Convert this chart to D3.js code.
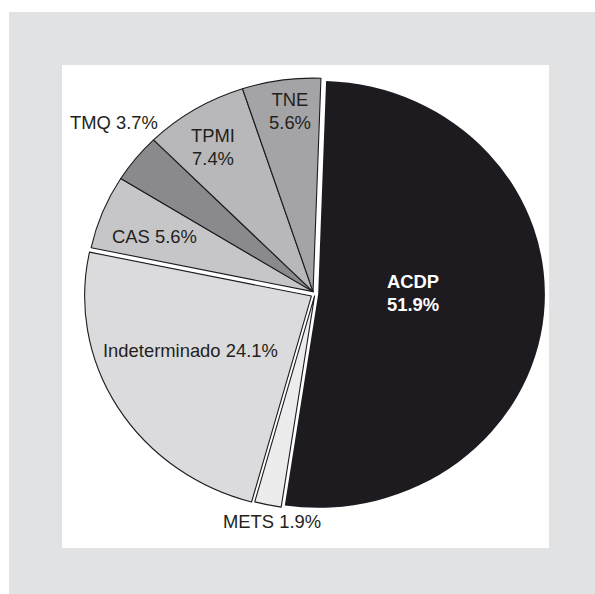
<!DOCTYPE html>
<html>
<head>
<meta charset="utf-8">
<script src="https://cdn.jsdelivr.net/npm/d3@7"></script>
<style>
  html, body { margin: 0; padding: 0; background: #ffffff; }
  svg { display: block; }
  text { font-family: "Liberation Sans", Arial, Helvetica, sans-serif; }
</style>
</head>
<body>
<svg id="chart" width="595" height="594"></svg>
<script>
// Diagnostic categories and their shares (%)
const categories = ["ACDP", "METS", "Indeterminado", "CAS", "TMQ", "TPMI", "TNE"];
const shares = [51.9, 1.9, 24.1, 5.6, 3.7, 7.4, 5.6];
const shareLabels = ["51.9%", "1.9%", "24.1%", "5.6%", "3.7%", "7.4%", "5.6%"];

// Slice fills
const fills = ["#1d1a20", "#ececed", "#dbdbdd", "#c6c6c8", "#8a8a8c", "#b8b8ba", "#a4a4a6"];
// How far each slice is pulled out of the centre (px); the four small
// slices move together as one block along the block's bisector
const explode = [3, 2, 4, 3, 3, 3, 3];
const blockMembers = ["CAS", "TMQ", "TPMI", "TNE"];

// Label layout relative to the pie centre: [dx, dy, anchor, two-line?]
const labelLayout = {
  "ACDP":          [98, -6, "middle", true],
  "METS":          [-92, 234, "start", false],
  "Indeterminado": [-212, 63, "start", false],
  "CAS":           [-203, -51, "start", false],
  "TMQ":           [-245, -165, "start", false],
  "TPMI":          [-102, -152, "middle", true],
  "TNE":           [-25, -188, "middle", true]
};

const svg = d3.select("#chart");
const W = 595, H = 594;

// outer grey frame and inner white panel
svg.append("rect").attr("x", 9).attr("y", 12).attr("width", W - 9).attr("height", H - 12).attr("fill", "#e1e2e4");
svg.append("rect").attr("x", 62).attr("y", 65).attr("width", 487).attr("height", 483).attr("fill", "#ffffff");

const cx = 315, cy = 294, R = 213.5, sx = 1.062;
const rot = 2 * Math.PI / 180;

const data = categories.map((c, i) => ({ cat: c, value: shares[i], label: shareLabels[i], fill: fills[i], ex: explode[i] }));

const pie = d3.pie().sort(null).value(d => d.value)
  .startAngle(rot).endAngle(rot + 2 * Math.PI);
const arcs = pie(data);
const arc = d3.arc().innerRadius(0).outerRadius(R);

// bisector of the block of small slices
const blockArcs = arcs.filter(a => blockMembers.includes(a.data.cat));
const blockMid = (d3.min(blockArcs, a => a.startAngle) + d3.max(blockArcs, a => a.endAngle)) / 2;

function offset(a) {
  const m = blockMembers.includes(a.data.cat) ? blockMid : (a.startAngle + a.endAngle) / 2;
  return [Math.sin(m) * a.data.ex, -Math.cos(m) * a.data.ex];
}

const g = svg.append("g").attr("transform", `translate(${cx},${cy}) scale(${sx},1)`);

g.selectAll("path.slice").data(arcs).join("path")
  .attr("class", "slice")
  .attr("d", arc)
  .attr("transform", a => { const o = offset(a); return `translate(${o[0]},${o[1]})`; })
  .attr("fill", a => a.data.fill)
  .attr("stroke", a => a.data.cat === "ACDP" ? "none" : "#1d1a20")
  .attr("stroke-width", 1.1)
  .attr("vector-effect", "non-scaling-stroke")
  .attr("stroke-linejoin", "round");

// labels
const lg = svg.append("g").attr("transform", `translate(${cx},${cy})`);
arcs.forEach(a => {
  const [dx, dy, anchor, twoLine] = labelLayout[a.data.cat];
  const isMain = a.data.cat === "ACDP";
  const t = lg.append("text")
    .attr("x", dx).attr("y", dy)
    .attr("text-anchor", anchor)
    .attr("font-size", 18.4)
    .attr("font-weight", isMain ? "bold" : "normal")
    .attr("fill", isMain ? "#ffffff" : "#231f20");
  if (twoLine) {
    t.append("tspan").attr("x", dx).attr("dy", 0).text(a.data.cat);
    t.append("tspan").attr("x", dx).attr("dy", 22.5).text(a.data.label);
  } else {
    t.text(`${a.data.cat} ${a.data.label}`);
  }
});
</script>
</body>
</html>
